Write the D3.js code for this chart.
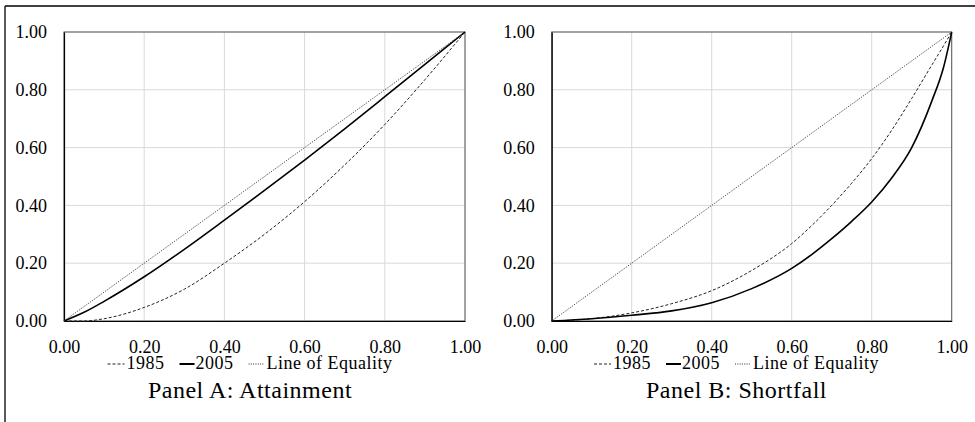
<!DOCTYPE html>
<html>
<head>
<meta charset="utf-8">
<script src="https://cdn.jsdelivr.net/npm/d3@7"></script>
<style>
  body { margin: 0; background: #fff; }
  text { font-family: "Liberation Serif", "DejaVu Serif", serif; fill: #000; }
</style>
</head>
<body>
<div id="chart"></div>
<script>
// cumulative shares
var attainX    = [0, 0.05, 0.1, 0.2, 0.3, 0.4, 0.5, 0.6, 0.7, 0.8, 0.9, 1]
var attain1985 = [0, 0, 0.008, 0.047, 0.11, 0.2, 0.3, 0.413, 0.54, 0.68, 0.835, 1]
var attain2005 = [0, 0.03, 0.068, 0.153, 0.248, 0.349, 0.452, 0.557, 0.665, 0.776, 0.888, 1]

var shortX    = [0, 0.1, 0.2, 0.3, 0.4, 0.5, 0.6, 0.65, 0.7, 0.75, 0.8, 0.85, 0.9, 0.95, 0.98, 1]
var short1985 = [0, 0.008, 0.028, 0.06, 0.105, 0.175, 0.268, 0.33, 0.4, 0.477, 0.562, 0.66, 0.77, 0.885, 0.953, 1]
var short2005 = [0, 0.008, 0.02, 0.035, 0.063, 0.112, 0.182, 0.23, 0.285, 0.345, 0.412, 0.495, 0.6, 0.76, 0.88, 1]

var equalityX = [0, 1]
var equalityY = [0, 1]

var ticks = [0, 0.2, 0.4, 0.6, 0.8, 1]
var legendLabels = ['1985', '2005', 'Line of Equality']
var panelTitles = ['Panel A: Attainment', 'Panel B: Shortfall']

var W = 975, H = 422

var svg = d3.select('#chart').append('svg')
  .attr('width', W)
  .attr('height', H)

// outer frame (cropped figure border)
svg.append('line').attr('x1', 5).attr('x2', W).attr('y1', 6).attr('y2', 6)
  .attr('stroke', '#000').attr('stroke-width', 1.3)
svg.append('line').attr('x1', 5).attr('x2', 5).attr('y1', 6).attr('y2', H)
  .attr('stroke', '#000').attr('stroke-width', 1.3)

var styles = [
  {dash: '3,2', width: 1, color: '#222'},   // 1985
  {dash: null, width: 1.6, color: '#000'},  // 2005
  {dash: '1,1.3', width: 1, color: '#333'}  // equality
]
var legendSample = [17, 15, 15]
var legendGap = [2, 1, 3]

function pairs(xs, ys) {
  return xs.map(function(x, i){ return [x, ys[i]] })
}

function drawPanel(left, right, center, title, s1985, s2005) {
  var top = 32, bottom = 321
  var x = d3.scaleLinear().domain([0, 1]).range([left, right])
  var y = d3.scaleLinear().domain([0, 1]).range([bottom, top])
  var g = svg.append('g')

  // grid
  g.selectAll('.vg').data(ticks).enter().append('line')
    .attr('x1', d => x(d)).attr('x2', d => x(d))
    .attr('y1', top).attr('y2', bottom)
    .attr('stroke', '#d9d9d9').attr('stroke-width', 1)
  g.selectAll('.hg').data(ticks).enter().append('line')
    .attr('y1', d => y(d)).attr('y2', d => y(d))
    .attr('x1', left).attr('x2', right)
    .attr('stroke', '#d9d9d9').attr('stroke-width', 1)

  // plot area border
  g.append('rect')
    .attr('x', left).attr('y', top)
    .attr('width', right - left).attr('height', bottom - top)
    .attr('fill', 'none').attr('stroke', '#595959').attr('stroke-width', 1)

  // axes
  var xAxis = d3.axisBottom(x).tickValues(ticks).tickFormat(d3.format('.2f')).tickSize(0)
  var yAxis = d3.axisLeft(y).tickValues(ticks).tickFormat(d3.format('.2f')).tickSize(0).tickPadding(17)
  var gx = g.append('g').attr('transform', 'translate(0,' + bottom + ')').call(xAxis)
  var gy = g.append('g').attr('transform', 'translate(' + left + ',0)').call(yAxis)
  ;[gx, gy].forEach(function(a){
    a.attr('font-family', null).attr('font-size', null)
    a.select('.domain').attr('stroke', '#000').attr('stroke-width', 1.2)
    a.selectAll('text').style('font-size', '18px').attr('fill', '#000')
  })
  gx.selectAll('text').attr('dy', 0).attr('y', 32)

  // series
  var line = d3.line().x(d => x(d[0])).y(d => y(d[1])).curve(d3.curveMonotoneX)
  var series = [s1985, s2005, pairs(equalityX, equalityY)]
  series.forEach(function(s, i){
    g.append('path').datum(s)
      .attr('d', line)
      .attr('fill', 'none')
      .attr('stroke', styles[i].color)
      .attr('stroke-width', styles[i].width)
      .attr('stroke-dasharray', styles[i].dash)
  })

  // legend
  var lg = g.append('g')
  var cx = 0, spacing = 15
  legendLabels.forEach(function(lab, i){
    lg.append('line')
      .attr('x1', cx).attr('x2', cx + legendSample[i])
      .attr('y1', 0).attr('y2', 0)
      .attr('stroke', styles[i].color)
      .attr('stroke-width', i == 1 ? 2 : 1)
      .attr('stroke-dasharray', styles[i].dash)
    var t = lg.append('text')
      .attr('x', cx + legendSample[i] + legendGap[i]).attr('y', 5)
      .style('font-size', '18px')
      .style('letter-spacing', '0.5px')
      .text(lab)
    cx += legendSample[i] + legendGap[i] + t.node().getComputedTextLength() + spacing
  })
  var total = cx - spacing
  lg.attr('transform', 'translate(' + (center - total / 2) + ',364)')

  // title
  g.append('text')
    .attr('x', center).attr('y', 398)
    .attr('text-anchor', 'middle')
    .style('font-size', '24px')
    .style('letter-spacing', '0.5px')
    .text(title)
}

drawPanel(64, 465, 250, panelTitles[0], pairs(attainX, attain1985), pairs(attainX, attain2005))
drawPanel(551.7, 951.7, 736.5, panelTitles[1], pairs(shortX, short1985), pairs(shortX, short2005))
</script>
</body>
</html>
